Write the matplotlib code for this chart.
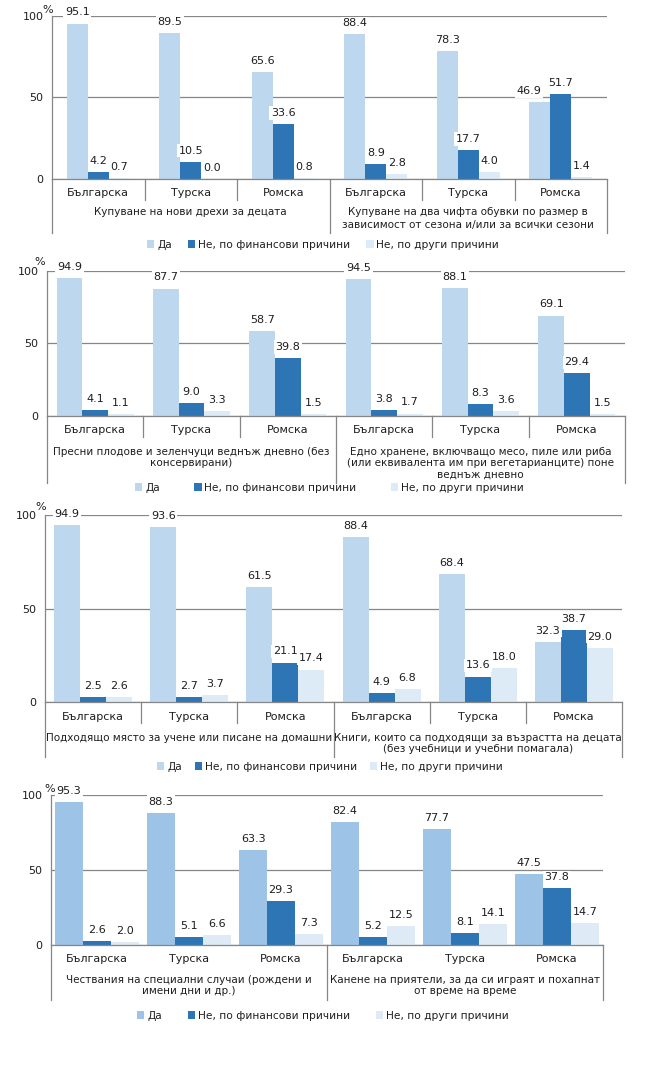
import numpy as np
import matplotlib
matplotlib.use("Agg")
import matplotlib.pyplot as plt
from matplotlib.transforms import blended_transform_factory as btf
from matplotlib.lines import Line2D

plt.rcParams['font.family'] = ['DejaVu Sans']

W, H = 649, 1070

groups = ['Българска', 'Турска', 'Ромска', 'Българска', 'Турска', 'Ромска']
series_names = ['Да', 'Не, по финансови причини', 'Не, по други причини']

# Panel 1
p1_titles = ['Купуване на нови дрехи за децата',
             'Купуване на два чифта обувки по размер в\nзависимост от сезона и/или за всички сезони']
p1_yes = [95.1, 89.5, 65.6, 88.4, 78.3, 46.9]
p1_fin = [4.2, 10.5, 33.6, 8.9, 17.7, 51.7]
p1_oth = [0.7, 0.0, 0.8, 2.8, 4.0, 1.4]

# Panel 2
p2_titles = ['Пресни плодове и зеленчуци веднъж дневно (без\nконсервирани)',
             'Едно хранене, включващо месо, пиле или риба\n(или еквивалента им при вегетарианците) поне\nведнъж дневно']
p2_yes = [94.9, 87.7, 58.7, 94.5, 88.1, 69.1]
p2_fin = [4.1, 9.0, 39.8, 3.8, 8.3, 29.4]
p2_oth = [1.1, 3.3, 1.5, 1.7, 3.6, 1.5]

# Panel 3
p3_titles = ['Подходящо място за учене или писане на домашни',
             'Книги, които са подходящи за възрастта на децата\n(без учебници и учебни помагала)']
p3_yes = [94.9, 93.6, 61.5, 88.4, 68.4, 32.3]
p3_fin = [2.5, 2.7, 21.1, 4.9, 13.6, 38.7]
p3_oth = [2.6, 3.7, 17.4, 6.8, 18.0, 29.0]

# Panel 4
p4_titles = ['Чествания на специални случаи (рождени и\nимени дни и др.)',
             'Канене на приятели, за да си играят и похапнат\nот време на време']
p4_yes = [95.3, 88.3, 63.3, 82.4, 77.7, 47.5]
p4_fin = [2.6, 5.1, 29.3, 5.2, 8.1, 37.8]
p4_oth = [2.0, 6.6, 7.3, 12.5, 14.1, 14.7]

GRAY = '#868686'
TXT = '#1e1e1e'
FS = 8
FS_TITLE = 7.5
FS_LEG = 7.7

# manual label nudges (panel, series, group) -> offset in points
label_nudge = {(0, 0, 5): (-8, 0)}

panels = [
    dict(vals=(p1_yes, p1_fin, p1_oth), titles=p1_titles,
         colors=('#BDD7EE', '#2E75B6', '#DDEBF7'),
         x0=52, x1=607, y100=15.5, y0=179, tot=0.68, inner=True,
         inner_bot=200, outer_bot=233, cat_y=193, out_top=207, ls=1.4,
         leg_x=147, leg_y=245, cs=1.5, pct=(48, 10)),
    dict(vals=(p2_yes, p2_fin, p2_oth), titles=p2_titles,
         colors=('#BDD7EE', '#2E75B6', '#DDEBF7'),
         x0=47, x1=625, y100=270.7, y0=416, tot=0.80, inner=True,
         inner_bot=437, outer_bot=483, cat_y=430, out_top=447, ls=1.15,
         leg_x=135, leg_y=488, cs=3.2, pct=(40, 262)),
    dict(vals=(p3_yes, p3_fin, p3_oth), titles=p3_titles,
         colors=('#BDD7EE', '#2E75B6', '#DDEBF7'),
         x0=45, x1=622, y100=515.3, y0=702, tot=0.81, inner=True,
         inner_bot=723, outer_bot=757, cat_y=717, out_top=733, ls=1.15,
         leg_x=157, leg_y=767, cs=1.2, pct=(41, 507)),
    dict(vals=(p4_yes, p4_fin, p4_oth), titles=p4_titles,
         colors=('#9DC3E6', '#2E75B6', '#DEEBF7'),
         x0=51, x1=603, y100=795.3, y0=945, tot=0.91, inner=False,
         inner_bot=945, outer_bot=1000, cat_y=959, out_top=975, ls=1.15,
         leg_x=137, leg_y=1016, cs=2.4, pct=(50, 789)),
]

fig = plt.figure(figsize=(W / 100, H / 100), dpi=100)

for pi, p in enumerate(panels):
    x0, x1, y100, y0 = p['x0'], p['x1'], p['y100'], p['y0']
    ax = fig.add_axes([x0 / W, 1 - y0 / H, (x1 - x0) / W, (y0 - y100) / H])
    ax.set_xlim(0, 6)
    ax.set_ylim(0, 100)
    ax.set_yticks([0, 50, 100])
    ax.set_xticks([])
    ax.tick_params(axis='y', length=0, pad=6, labelsize=FS, labelcolor=TXT)
    ax.yaxis.grid(True, color=GRAY, lw=0.9)
    ax.set_axisbelow(True)
    for s in ['top', 'right']:
        ax.spines[s].set_visible(False)
    for s in ['left', 'bottom']:
        ax.spines[s].set_color(GRAY)
        ax.spines[s].set_linewidth(0.9)

    xc = np.arange(6) + 0.5
    bw = p['tot'] / 3
    handles = []
    for j, (vals, col) in enumerate(zip(p['vals'], p['colors'])):
        xs = xc + (j - 1) * bw
        b = ax.bar(xs, vals, width=bw, color=col, zorder=2, linewidth=0)
        handles.append(b)
        for gi, (xv, v) in enumerate(zip(xs, vals)):
            dx, dy = label_nudge.get((pi, j, gi), (0, 0))
            ax.annotate(f'{v:.1f}', (xv, v), xytext=(dx, 8 + dy), textcoords='offset points',
                        ha='center', va='center', fontsize=FS, color=TXT,
                        bbox=dict(fc='white', ec='none', pad=1.2), zorder=5,
                        annotation_clip=False)

    def yfrac(ypx):
        return (y0 - ypx) / (y0 - y100)

    tr = btf(ax.transData, ax.transAxes)
    for k in range(7):
        outer = k in (0, 3, 6)
        if not outer and not p['inner']:
            continue
        ybot = p['outer_bot'] if outer else p['inner_bot']
        ax.add_line(Line2D([k, k], [0, yfrac(ybot)], transform=tr, color=GRAY,
                           lw=0.9, clip_on=False))

    for i, g in enumerate(groups):
        ax.text(i + 0.5, yfrac(p['cat_y']), g, transform=tr, ha='center', va='center',
                fontsize=FS, color=TXT)
    for h, t in enumerate(p['titles']):
        ax.text(1.5 + 3 * h, yfrac(p['out_top']), t, transform=tr, ha='center', va='top',
                fontsize=FS_TITLE, color=TXT, linespacing=p['ls'], multialignment='center')

    fig.text(p['pct'][0] / W, 1 - p['pct'][1] / H, '%', fontsize=FS, ha='center',
             va='center', color=TXT)

    fig.legend(handles, series_names, loc='center left',
               bbox_to_anchor=(p['leg_x'] / W, 1 - p['leg_y'] / H), ncol=3,
               frameon=False, fontsize=FS_LEG, handlelength=0.7, handleheight=0.7,
               handletextpad=0.25, columnspacing=p['cs'], borderpad=0,
               borderaxespad=0, labelcolor=TXT)

fig.savefig('out.png', dpi=100)
